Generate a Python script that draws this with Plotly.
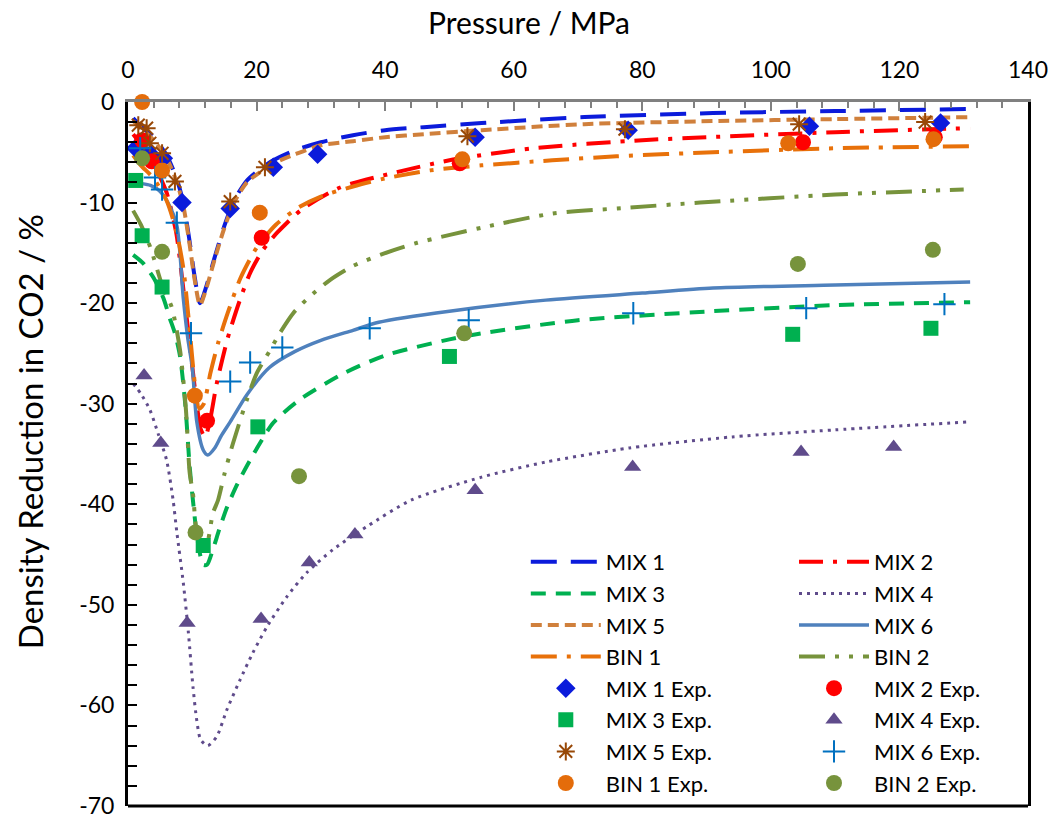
import plotly.graph_objects as go

# ---- model curves: pressure (MPa) vs density reduction of CO2 (%) ----
mix1_p = [0.8, 2, 4, 6, 7.5, 8.6, 9.5, 10.4, 11.2, 12.2, 13.5, 15, 16.5, 18.5, 20.5, 22.6, 26, 30, 35, 40, 46, 55, 71, 91, 110, 131]
mix1_d = [-1.6, -2.4, -3.5, -5.3, -7.5, -10, -13.5, -17.5, -20, -18.3, -15.4, -12.3, -9.8, -7.8, -6.7, -5.8, -4.8, -4.0, -3.3, -2.8, -2.5, -2.1, -1.5, -1.1, -0.9, -0.7]

mix2_p = [0.8, 2, 4, 6, 7.5, 8.5, 9.5, 10.5, 11.3, 12, 12.8, 13.8, 15.5, 17.4, 19, 21, 23.2, 27, 33, 41, 50, 63, 80, 90, 110, 131]
mix2_d = [-3.2, -4.2, -6.2, -9.0, -13, -18, -23.5, -29, -32.5, -33.3, -31.5, -28, -23.5, -19.7, -17, -14.7, -13, -10.7, -8.5, -7.1, -5.8, -4.6, -3.8, -3.5, -3.0, -2.6]

mix3_p = [0.8, 2.3, 4, 5.5, 6.5, 7.3, 8.1, 8.9, 9.6, 10.1, 10.8, 11.7, 12.3, 13.2, 14.2, 15.4, 17, 19, 22.6, 26.7, 33.5, 40, 50, 55, 70, 91, 110, 131]
mix3_d = [-15.2, -16, -17.5, -19.5, -21.5, -23, -25.3, -30, -36.3, -39.6, -43.5, -46, -46, -44.5, -42.5, -40.3, -38, -35.6, -31.9, -29.6, -27, -25.2, -23.6, -23, -21.7, -20.8, -20.2, -19.9]

mix4_p = [0.8, 2, 3.4, 4.7, 6, 7, 7.6, 8.6, 9.4, 10.1, 10.7, 11.3, 12.4, 13.8, 15.4, 17.4, 19.4, 21.6, 24.7, 27.8, 31.9, 37.2, 44, 55, 65, 78, 94, 110, 131]
mix4_d = [-28, -29, -30.6, -33, -35.6, -39.5, -42.8, -47.8, -52.8, -58.1, -61.5, -63.4, -64, -63.1, -60.4, -57.5, -54.8, -52.2, -49.2, -46.8, -44.5, -42.2, -39.6, -37.3, -35.8, -34.4, -33.3, -32.6, -31.8]

mix5_p = [0.8, 2, 4, 6, 7.5, 8.6, 9.5, 10.4, 11.2, 12.2, 13.5, 15, 16.5, 18.5, 20.5, 22.6, 26, 30, 35, 40, 46, 55, 71, 91, 110, 131]
mix5_d = [-1.9, -2.6, -3.8, -5.6, -7.8, -10.3, -13.8, -17.8, -20.2, -18.5, -15.6, -12.5, -10.0, -8.0, -7.0, -6.1, -5.2, -4.3, -3.9, -3.5, -3.2, -2.8, -2.2, -1.9, -1.7, -1.5]

mix6_p = [0.8, 2, 3.5, 5, 6.2, 7.6, 8.6, 9.3, 10, 10.7, 11.7, 12.4, 13.5, 14.5, 15.9, 18.5, 22, 26, 30, 35, 39, 50, 65, 80, 91, 110, 131]
mix6_d = [-8.0, -8.1, -8.3, -8.9, -10, -12.3, -19.5, -23.5, -26.4, -31.8, -34.6, -35.1, -34.4, -33.2, -31.8, -29.1, -26.4, -24.8, -23.7, -22.7, -21.9, -20.8, -19.7, -19.0, -18.5, -18.2, -17.9]

bin1_p = [0.8, 2, 4, 6, 7.5, 8.6, 9.5, 10.4, 11.1, 11.8, 12.8, 14, 15.5, 17.5, 20, 23, 26.5, 30, 35, 40, 47, 55, 66, 76, 91, 110, 131]
bin1_d = [-5.3, -6.3, -7.6, -9.8, -12.8, -16.5, -22, -28, -30.5, -30, -27, -24, -21, -17.5, -14.5, -12.2, -10.5, -9.4, -8.4, -7.6, -6.8, -6.3, -5.8, -5.4, -5.0, -4.6, -4.4]

bin2_p = [0.8, 2, 3.5, 5.4, 6.8, 8.1, 9, 9.6, 10.1, 10.7, 11.5, 12.2, 13.2, 14, 15, 16.3, 18.5, 20, 22, 23.6, 25.7, 28, 31.4, 35, 41, 45, 55, 66, 78, 89, 110, 130]
bin2_d = [-10.8, -12.2, -14.5, -18.4, -20.4, -24.7, -30.5, -36.9, -38.9, -42.8, -44, -44, -40.9, -39.6, -37, -34, -29.6, -27, -24.8, -23, -21, -19.5, -17.7, -16.3, -14.8, -14, -12.5, -11.1, -10.5, -10, -9.2, -8.7]

# ---- experimental points ----
mix1_exp_p = [1.2, 2.3, 3.5, 5.5, 8.4, 15.9, 22.6, 29.5, 54, 77.8, 106, 126.4]
mix1_exp_d = [-4.6, -5.0, -5.2, -5.6, -10.0, -10.6, -6.5, -5.2, -3.5, -2.8, -2.4, -2.1]

mix2_exp_p = [2.2, 3.7, 12.3, 20.8, 51.6, 105, 125.5]
mix2_exp_d = [-3.8, -5.9, -31.7, -13.5, -6.1, -4.0, -3.5]

mix3_exp_p = [1.2, 2.2, 5.3, 11.7, 20.2, 50, 103.4, 124.9]
mix3_exp_d = [-7.8, -13.3, -18.4, -44.1, -32.3, -25.3, -23.1, -22.5]

mix4_exp_p = [2.5, 5.1, 9.2, 20.7, 28.2, 35.3, 54, 78.5, 104.7, 119.1]
mix4_exp_d = [-27.2, -33.9, -51.8, -51.4, -45.8, -43.0, -38.6, -36.3, -34.8, -34.3]

mix5_exp_p = [1.6, 2.9, 3.4, 5.3, 7.3, 15.9, 21.3, 52.8, 77.3, 104.4, 124]
mix5_exp_d = [-2.3, -2.6, -4.1, -5.1, -7.9, -9.9, -6.5, -3.4, -2.7, -2.2, -2.0]

mix6_exp_p = [1.9, 4.2, 5.3, 7.6, 9.8, 15.9, 19, 24, 37.6, 53, 78.6, 105.5, 127]
mix6_exp_d = [-4.6, -7.5, -8.7, -12, -23, -27.8, -25.9, -24.4, -22.5, -21.7, -21, -20.5, -20.1]

bin1_exp_p = [2.2, 5.3, 10.4, 20.5, 52, 102.7, 125.3]
bin1_exp_d = [0.0, -6.8, -29.2, -11.0, -5.7, -4.1, -3.7]

bin2_exp_p = [2.2, 5.3, 10.5, 26.6, 52.3, 104.2, 125.2]
bin2_exp_d = [-5.6, -14.9, -42.8, -37.2, -23.0, -16.1, -14.7]

y_tick_vals = [0, -10, -20, -30, -40, -50, -60, -70]
y_tick_text = ["0", "-10", "-20", "-30", "-40", "-50", "-60", "-70"]

FONT = "Lato, 'Noto Sans', sans-serif"

fig = go.Figure()

def add_line(p, d, name, color, dash, width, legend):
    fig.add_trace(go.Scatter(
        x=p, y=d, mode="lines", name=name, legend=legend, legendgroup=name,
        line=dict(color=color, dash=dash, width=width, shape="spline", smoothing=0.7),
    ))

def add_points(p, d, name, color, symbol, size, legend, open_line=0):
    marker = dict(color=color, symbol=symbol, size=size)
    if open_line:
        marker["line"] = dict(color=color, width=open_line)
    else:
        marker["line"] = dict(width=0)
    fig.add_trace(go.Scatter(
        x=p, y=d, mode="markers", name=name, legend=legend, legendgroup=name,
        marker=marker, cliponaxis=False,
    ))

# model curves (left column entries in legend, right column entries in legend2)
add_line(mix1_p, mix1_d, "MIX 1", "#0B1BDB", "26px,14px", 4, "legend")
add_line(mix2_p, mix2_d, "MIX 2", "#FF0000", "24px,10px,4px,10px", 4, "legend2")
add_line(mix3_p, mix3_d, "MIX 3", "#00B050", "15px,10px", 4, "legend")
add_line(mix4_p, mix4_d, "MIX 4", "#5F4B8B", "3px,5px", 3, "legend2")
add_line(mix5_p, mix5_d, "MIX 5", "#D0803C", "11px,6px", 4, "legend")
add_line(mix6_p, mix6_d, "MIX 6", "#4F81BD", "solid", 3.5, "legend2")
add_line(bin1_p, bin1_d, "BIN 1", "#E8710A", "26px,10px,4px,10px", 4, "legend")
add_line(bin2_p, bin2_d, "BIN 2", "#77933C", "26px,10px,4px,10px,4px,10px", 4, "legend2")

# experimental data
add_points(mix1_exp_p, mix1_exp_d, "MIX 1 Exp.", "#0B1BDB", "diamond", 15, "legend")
add_points(mix2_exp_p, mix2_exp_d, "MIX 2 Exp.", "#FF0000", "circle", 16, "legend2")
add_points(mix3_exp_p, mix3_exp_d, "MIX 3 Exp.", "#00B050", "square", 15, "legend")
add_points(mix4_exp_p, mix4_exp_d, "MIX 4 Exp.", "#5F4B8B", "triangle-up", 15, "legend2")
add_points(mix5_exp_p, mix5_exp_d, "MIX 5 Exp.", "#984807", "asterisk-open", 15, "legend", open_line=2)
add_points(mix6_exp_p, mix6_exp_d, "MIX 6 Exp.", "#0070C0", "cross-thin-open", 16, "legend2", open_line=2)
add_points(bin1_exp_p, bin1_exp_d, "BIN 1 Exp.", "#E46C0A", "circle", 16, "legend")
add_points(bin2_exp_p, bin2_exp_d, "BIN 2 Exp.", "#77933C", "circle", 16, "legend2")

legend_common = dict(
    font=dict(family=FONT, size=22, color="#000000"),
    bgcolor="rgba(0,0,0,0)", borderwidth=0,
    itemwidth=70, tracegroupgap=0, yanchor="top", xanchor="left",
    itemclick=False, itemdoubleclick=False,
)

fig.update_layout(
    width=1064, height=823,
    margin=dict(l=128, r=36, t=102, b=17, autoexpand=False),
    paper_bgcolor="white", plot_bgcolor="white",
    font=dict(family=FONT, size=22, color="#000000"),
    showlegend=True,
    legend=dict(x=0.442, y=0.3764, **legend_common),
    legend2=dict(x=0.740, y=0.3764, **legend_common),
    xaxis=dict(
        side="top", range=[0, 140], dtick=20, tick0=0,
        showgrid=False, zeroline=False,
        showline=True, linecolor="#808080", linewidth=3,
        ticks="inside", ticklen=9, tickwidth=2, tickcolor="#808080",
        minor=dict(dtick=4, ticks="inside", ticklen=6, tickwidth=2, tickcolor="#808080"),
        ticklabelstandoff=12,
        tickfont=dict(family=FONT, size=23),
        automargin=False,
    ),
    yaxis=dict(
        range=[-70, 0], tickvals=y_tick_vals, ticktext=y_tick_text,
        showgrid=False, zeroline=False,
        showline=True, linecolor="#000000", linewidth=3, mirror=True,
        ticks="inside", ticklen=9, tickwidth=2, tickcolor="#000000",
        minor=dict(dtick=2, ticks="inside", ticklen=9, tickwidth=2, tickcolor="#000000"),
        ticklabelstandoff=6,
        tickfont=dict(family=FONT, size=23),
        automargin=False,
    ),
    annotations=[
        dict(text="Pressure / MPa", xref="paper", yref="paper", x=0.4456, y=1,
             yshift=80, xanchor="center", yanchor="middle", showarrow=False,
             font=dict(family=FONT, size=30)),
        dict(text="Density Reduction in CO2 / %", xref="paper", yref="paper",
             x=0, xshift=-98, y=0.531, xanchor="center", yanchor="middle",
             textangle=-90, showarrow=False, font=dict(family=FONT, size=33)),
    ],
)

# bottom edge of the plot frame
fig.add_shape(type="line", xref="paper", yref="paper", x0=0, x1=1, y0=0, y1=0,
              line=dict(color="#000000", width=3))

fig.write_html("out.html")
